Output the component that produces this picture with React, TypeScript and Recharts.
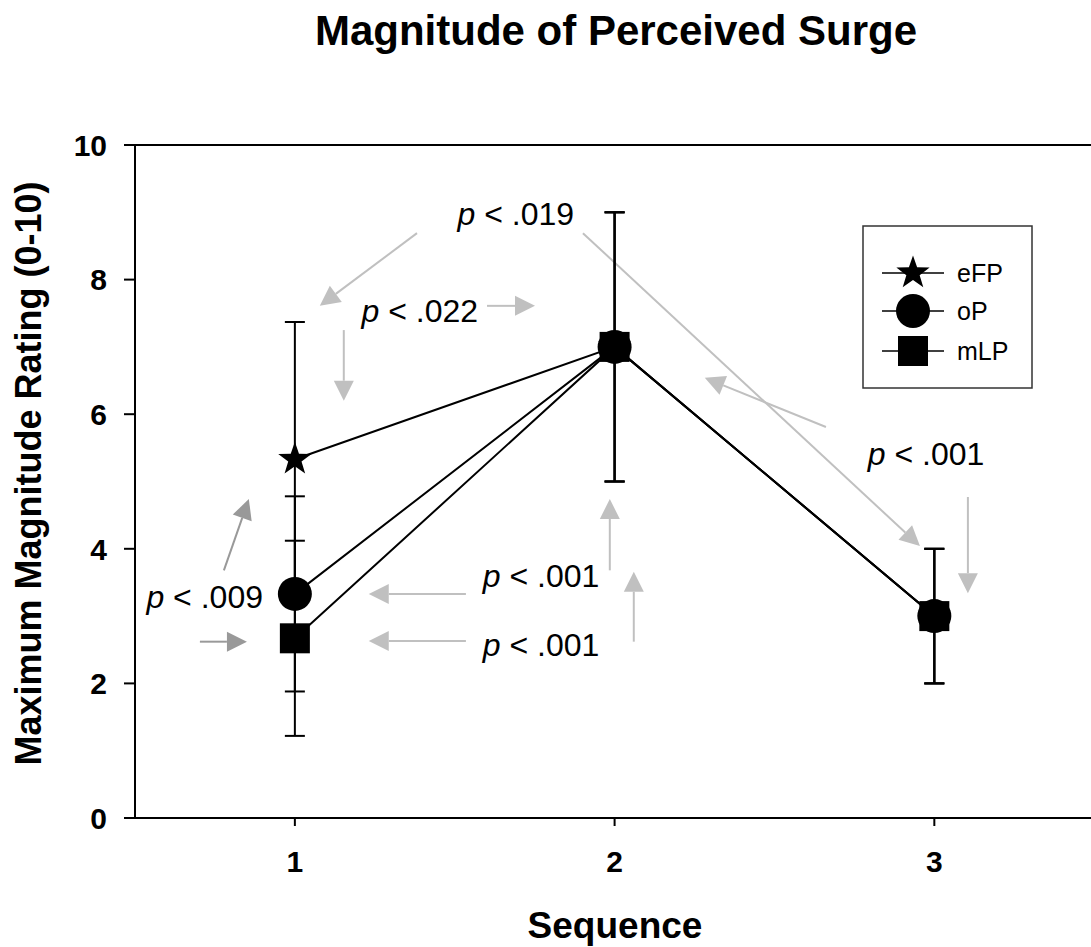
import React from "react";
import {
  LineChart,
  Line,
  XAxis,
  YAxis,
  ErrorBar,
  ReferenceLine,
  ReferenceDot,
  Customized,
} from "recharts";

// Sequence positions and mean ratings per condition
const sequences = [1, 2, 3];
const eFPValues = [5.33, 7.0, 3.0];
const oPValues = [3.33, 7.0, 3.0];
const mLPValues = [2.67, 7.0, 3.0];

// Error bar half-lengths
const eFPErrors = [2.04, 2.0, 1.0];
const oPErrors = [1.45, 2.0, 1.0];
const mLPErrors = [1.45, 2.0, 1.0];

const yTicks = [0, 2, 4, 6, 8, 10];
const xTicks = [1, 2, 3];

const seriesList = [
  { key: "eFP", marker: "star" },
  { key: "oP", marker: "circle" },
  { key: "mLP", marker: "square" },
];

// p-value annotations (data coordinates, text baseline)
const pLabels = [
  { value: ".019", x: 1.691, y: 8.81 },
  { value: ".022", x: 1.391, y: 7.37 },
  { value: ".009", x: 0.718, y: 3.12 },
  { value: ".001", x: 1.77, y: 3.43 },
  { value: ".001", x: 1.77, y: 2.4 },
  { value: ".001", x: 2.974, y: 5.245 },
];

// gray arrows pointing from labels towards compared points
const arrows = [
  { x1: 1.382, y1: 8.69, x2: 1.078, y2: 7.61, tone: "light" },
  { x1: 1.901, y1: 8.69, x2: 2.955, y2: 4.04, tone: "light" },
  { x1: 1.601, y1: 7.61, x2: 1.751, y2: 7.61, tone: "light" },
  { x1: 1.153, y1: 7.25, x2: 1.153, y2: 6.2, tone: "light" },
  { x1: 1.535, y1: 3.33, x2: 1.231, y2: 3.33, tone: "light" },
  { x1: 1.535, y1: 2.63, x2: 1.231, y2: 2.63, tone: "light" },
  { x1: 1.985, y1: 3.68, x2: 1.985, y2: 4.74, tone: "light" },
  { x1: 2.06, y1: 2.62, x2: 2.06, y2: 3.66, tone: "light" },
  { x1: 2.661, y1: 5.81, x2: 2.282, y2: 6.54, tone: "light" },
  { x1: 3.105, y1: 4.77, x2: 3.105, y2: 3.34, tone: "light" },
  { x1: 0.778, y1: 3.68, x2: 0.856, y2: 4.74, tone: "dark" },
  { x1: 0.703, y1: 2.62, x2: 0.85, y2: 2.62, tone: "dark" },
];

const data = sequences.map((seq, i) => ({
  seq,
  eFP: eFPValues[i],
  oP: oPValues[i],
  mLP: mLPValues[i],
  eFPErr: eFPErrors[i],
  oPErr: oPErrors[i],
  mLPErr: mLPErrors[i],
}));

const FONT = "'Liberation Sans', Arial, Helvetica, sans-serif";
const W = 1091;
const H = 947;

function starPoints(cx: number, cy: number, R: number, r: number) {
  const pts: string[] = [];
  for (let i = 0; i < 10; i++) {
    const rad = i % 2 === 0 ? R : r;
    const a = -Math.PI / 2 + (i * Math.PI) / 5;
    pts.push(`${cx + rad * Math.cos(a)},${cy + rad * Math.sin(a)}`);
  }
  return pts.join(" ");
}

function Marker({ kind, cx, cy }: { kind: string; cx: number; cy: number }) {
  if (kind === "star") {
    return <polygon points={starPoints(cx, cy, 17.5, 7)} fill="#000" />;
  }
  if (kind === "circle") {
    return <circle cx={cx} cy={cy} r={17} fill="#000" />;
  }
  return <rect x={cx - 15} y={cy - 15} width={30} height={30} fill="#000" />;
}

const arrowShape = (color: string) => (p: any) => {
  const { x1, y1, x2, y2 } = p;
  const dx = x2 - x1;
  const dy = y2 - y1;
  const len = Math.hypot(dx, dy) || 1;
  const ux = dx / len;
  const uy = dy / len;
  const hl = 20;
  const hw = 10;
  const bx = x2 - ux * hl;
  const by = y2 - uy * hl;
  return (
    <g>
      <line x1={x1} y1={y1} x2={bx} y2={by} stroke={color} strokeWidth={2} />
      <polygon
        points={`${x2},${y2} ${bx - uy * hw},${by + ux * hw} ${bx + uy * hw},${by - ux * hw}`}
        fill={color}
      />
    </g>
  );
};

const XTick = (props: any) => {
  const { x, y, payload } = props;
  return (
    <text x={x} y={y} dy={44} textAnchor="middle" fontFamily={FONT} fontWeight="bold" fontSize={30} fill="#000">
      {payload.value}
    </text>
  );
};

const YTick = (props: any) => {
  const { x, y, payload } = props;
  return (
    <text x={x - 15} y={y} dy="0.36em" textAnchor="end" fontFamily={FONT} fontWeight="bold" fontSize={30} fill="#000">
      {payload.value}
    </text>
  );
};

const Overlay = () => (
  <g>
    <text x={616} y={45} textAnchor="middle" fontFamily={FONT} fontWeight="bold" fontSize={42} fill="#000">
      Magnitude of Perceived Surge
    </text>
    {/* legend */}
    <rect x={863} y={226} width={169} height={162} fill="#fff" stroke="#333" strokeWidth={1.5} />
    {seriesList.map((s, i) => {
      const cy = [273, 311, 351][i];
      return (
        <g key={s.key}>
          <line x1={882} y1={cy} x2={944} y2={cy} stroke="#000" strokeWidth={1.5} />
          <Marker kind={s.marker} cx={913} cy={cy} />
          <text x={957} y={cy + 9} fontFamily={FONT} fontSize={25} fill="#000">
            {s.key}
          </text>
        </g>
      );
    })}
  </g>
);

export default function App() {
  return (
    <div style={{ position: "absolute", left: 0, top: 0, width: W, height: H, background: "#fff" }}>
      <LineChart width={W} height={H} data={data} margin={{ top: 145, right: 0, left: 0, bottom: 0 }}>
        <XAxis
          dataKey="seq"
          type="number"
          domain={[0.5, 3.49]}
          ticks={xTicks}
          allowDataOverflow
          height={129}
          tickSize={8}
          tick={<XTick />}
          tickLine={{ stroke: "#000", strokeWidth: 2 }}
          axisLine={{ stroke: "#000", strokeWidth: 2 }}
          label={{
            position: "bottom",
            content: (p: any) => {
              const vb = p.viewBox || { x: 135, width: 956 };
              return (
                <text x={vb.x + 480} y={938} textAnchor="middle" fontFamily={FONT} fontWeight="bold" fontSize={37} fill="#000">
                  Sequence
                </text>
              );
            },
          }}
        />
        <YAxis
          type="number"
          domain={[0, 10]}
          ticks={yTicks}
          width={135}
          tickSize={11}
          tick={<YTick />}
          tickLine={{ stroke: "#000", strokeWidth: 2 }}
          axisLine={{ stroke: "#000", strokeWidth: 2 }}
          label={{
            position: "left",
            content: (p: any) => {
              const vb = p.viewBox || { y: 145, height: 673 };
              const cy = vb.y + vb.height / 2 - 8;
              return (
                <text
                  x={41}
                  y={cy}
                  transform={`rotate(-90, 41, ${cy})`}
                  textAnchor="middle"
                  fontFamily={FONT}
                  fontWeight="bold"
                  fontSize={36}
                  fill="#000"
                >
                  Maximum Magnitude Rating (0-10)
                </text>
              );
            },
          }}
        />
        <ReferenceLine y={10} stroke="#000" strokeWidth={2} ifOverflow="visible" />
        {arrows.map((a, i) => (
          <ReferenceLine
            key={`arrow-${i}`}
            segment={[
              { x: a.x1, y: a.y1 },
              { x: a.x2, y: a.y2 },
            ]}
            ifOverflow="visible"
            shape={arrowShape(a.tone === "dark" ? "#999999" : "#c0c0c0")}
          />
        ))}
        {pLabels.map((l, i) => (
          <ReferenceDot
            key={`plabel-${i}`}
            x={l.x}
            y={l.y}
            r={1}
            ifOverflow="visible"
            shape={(p: any) => (
              <text x={p.cx} y={p.cy} textAnchor="middle" fontFamily={FONT} fontSize={32} fill="#000">
                <tspan fontStyle="italic">p</tspan> &lt; {l.value}
              </text>
            )}
          />
        ))}
        {seriesList.map((s) => (
          <Line
            key={s.key}
            dataKey={s.key}
            type="linear"
            stroke="#000"
            strokeWidth={2}
            isAnimationActive={false}
            activeDot={false}
            dot={(p: any) =>
              p.cx == null ? <g key={`${s.key}-${p.index}`} /> : <Marker key={`${s.key}-${p.index}`} kind={s.marker} cx={p.cx} cy={p.cy} />
            }
          >
            <ErrorBar dataKey={`${s.key}Err`} direction="y" width={10} stroke="#000" strokeWidth={2} isAnimationActive={false} />
          </Line>
        ))}
        <Customized component={Overlay} />
      </LineChart>
    </div>
  );
}
